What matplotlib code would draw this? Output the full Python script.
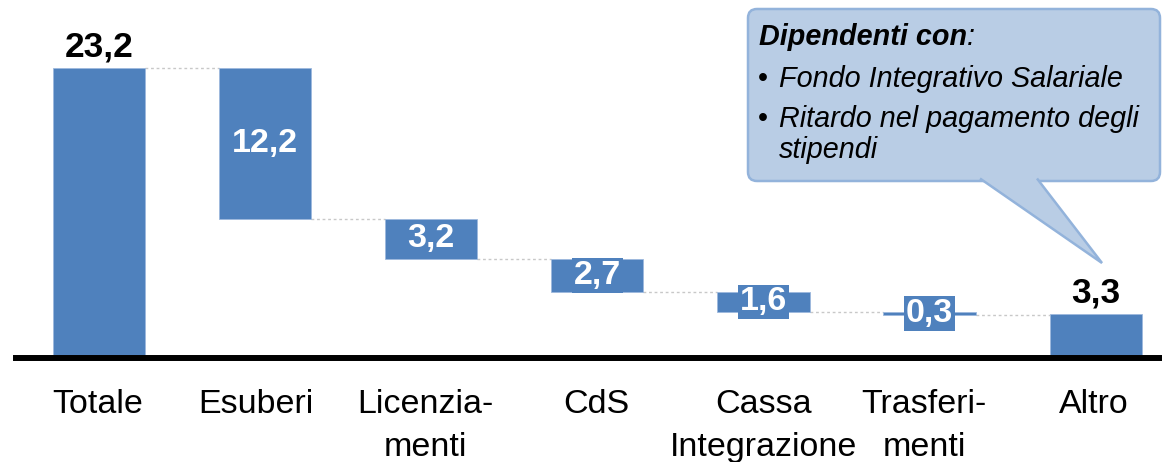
import matplotlib
matplotlib.use("Agg")
import matplotlib.pyplot as plt
from matplotlib.patches import FancyBboxPatch, Polygon

plt.rcParams['font.family'] = ['Liberation Sans', 'DejaVu Sans']

categories = ["Totale", "Esuberi", "Licenzia-\nmenti", "CdS",
              "Cassa\nIntegrazione", "Trasferi-\nmenti", "Altro"]
values = [23.2, 12.2, 3.2, 2.7, 1.6, 0.3, 3.3]
value_labels = ["23,2", "12,2", "3,2", "2,7", "1,6", "0,3", "3,3"]
kinds = ["total", "drop", "drop", "drop", "drop", "drop", "total"]

callout_title = "Dipendenti con"
callout_items = ["Fondo Integrativo Salariale", "Ritardo nel pagamento degli", "stipendi"]

# small horizontal nudges (points) of the category labels, as in the original
label_nudge = [-1, -7, -4, -1, 0, -4, -1]

BAR = "#4F81BD"
W, H = 1162, 462
fig = plt.figure(figsize=(W / 100, H / 100), dpi=100)

px_left, px_base = 16, 358
px_per_unit = 12.35
ylo, yhi = -0.243, 23.5
slot = 166.1
ax_h = (yhi - ylo) * px_per_unit
ax = fig.add_axes([px_left / W, (H - px_base) / H, (W - px_left) / W, ax_h / H])
ax.set_xlim(-0.5, -0.5 + (W - px_left) / slot)
ax.set_ylim(ylo, yhi)

bw = 0.555
xs = list(range(len(values)))
bottoms, level, ends = [], 0.0, []
for v, k in zip(values, kinds):
    if k == "total":
        bottoms.append(0.0)
        level = v
    else:
        level = level - v
        bottoms.append(level)
    ends.append(level if k == "drop" else v)

ax.bar(xs, values, bottom=bottoms, width=bw, color=BAR, edgecolor="#9DB9DD",
       linewidth=0.6, zorder=2)

for i in range(len(values) - 1):
    lvl = ends[i]
    ax.plot([xs[i] + bw / 2, xs[i + 1] - bw / 2], [lvl, lvl], color="#C8C8C8",
            lw=1.0, ls=(0, (2, 2)), zorder=1)

for x, v, b, lab, k in zip(xs, values, bottoms, value_labels, kinds):
    if k == "total":
        ax.annotate(lab, xy=(x, b + v), xytext=(0, 8.6), textcoords="offset points",
                    ha="center", va="baseline", fontsize=25.5, fontweight="bold",
                    color="black", annotation_clip=False)
    else:
        ax.text(x, b + v / 2, lab, ha="center", va="center", fontsize=24.5,
                fontweight="bold", color="white", zorder=3,
                bbox=dict(boxstyle="square,pad=0.05", fc=BAR, ec="none"))

# category labels, one text per line (baselines 55 px and 98 px below the axis)
ax.set_xticks([])
ax.set_yticks([])
line_offsets_pt = [-39.6, -70.3]
for x, lab, dx in zip(xs, categories, label_nudge):
    for j, line in enumerate(lab.split("\n")):
        ax.annotate(line, xy=(x, 0), xycoords=("data", "axes fraction"),
                    xytext=(dx, line_offsets_pt[j]), textcoords="offset points",
                    ha="center", va="baseline", fontsize=24.5,
                    annotation_clip=False)

for s in ["top", "left", "right"]:
    ax.spines[s].set_visible(False)
ax.spines["bottom"].set_linewidth(4.3)
ax.spines["bottom"].set_color("black")

# callout (pixel coordinates overlay)
ov = fig.add_axes([0, 0, 1, 1])
ov.set_xlim(0, W)
ov.set_ylim(H, 0)
ov.axis("off")
ov.patch.set_visible(False)
FILL, EDGE = "#B9CDE5", "#93B3DB"
rect = FancyBboxPatch((748, 9), 412, 172, boxstyle="round,pad=0,rounding_size=9",
                      fc=FILL, ec=EDGE, lw=1.8, zorder=1)
ov.add_patch(rect)
ptr = Polygon([(980, 178.5), (1102, 263), (1037, 178.5)], closed=False,
              fc=FILL, ec=EDGE, lw=1.8, zorder=2)
ov.add_patch(ptr)

fs = 20.7
t = ov.text(759, 45, callout_title, fontsize=fs, fontweight="bold",
            fontstyle="italic", va="baseline", ha="left", zorder=3)
ov.annotate(":", xy=(1, 0), xycoords=t, va="bottom", ha="left",
            fontsize=fs, fontstyle="italic", zorder=3)
bullet_y = [87, 127]
for yb, item in zip(bullet_y, callout_items[:2]):
    ov.text(758, yb, "•", fontsize=fs, va="baseline", ha="left", zorder=3)
    ov.text(779, yb, item, fontsize=fs, fontstyle="italic", va="baseline",
            ha="left", zorder=3)
ov.text(779, 158, callout_items[2], fontsize=fs, fontstyle="italic",
        va="baseline", ha="left", zorder=3)

fig.savefig("out.png", dpi=100)
